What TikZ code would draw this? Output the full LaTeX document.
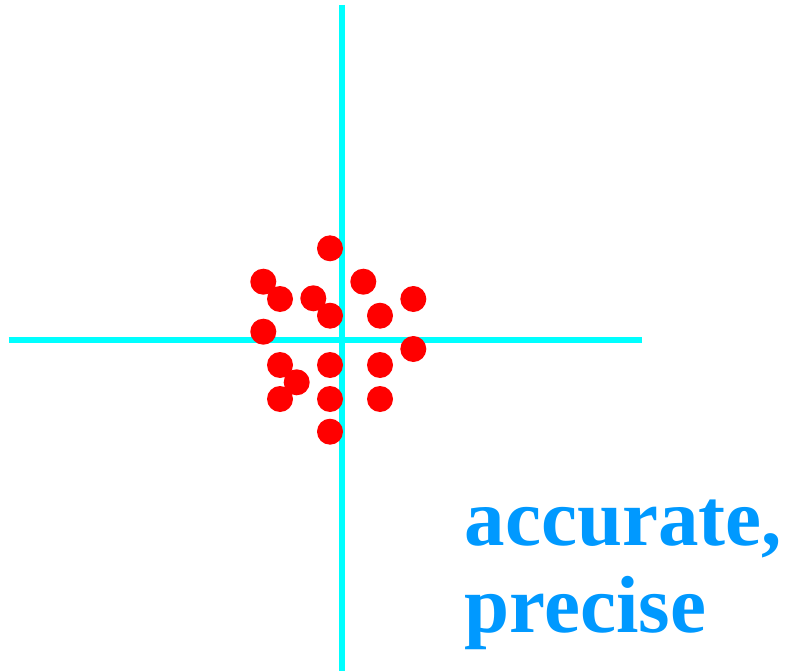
\documentclass[tikz,border=0pt]{standalone}
\usepackage{fontspec}
\setmainfont{Liberation Serif}
\definecolor{axiscyan}{RGB}{0,255,255}
\definecolor{dotred}{RGB}{255,0,0}
\definecolor{labelblue}{RGB}{0,153,255}
\tikzset{
  axisline/.style={draw=axiscyan, line width=6pt},
  shot/.style={circle, fill=dotred, draw=none, minimum size=26pt, inner sep=0pt},
  lbl/.style={text=labelblue, font=\bfseries\fontsize{81}{87}\selectfont, inner sep=0pt, anchor=base west}
}
\begin{document}
\begin{tikzpicture}[x=1pt,y=-1pt]
\useasboundingbox (0,0) rectangle (787,671);
\coordinate (vtop) at (341.5,5);
\coordinate (vbot) at (341.5,671);
\coordinate (hl) at (8.5,340);
\coordinate (hr) at (642,340);
\draw[axisline] (vtop) -- (vbot);
\draw[axisline] (hl) -- (hr);
\foreach \n/\x/\y in {1/330/248.3, 2/263.3/281.7, 3/280/299, 4/313.3/298.3, 5/330/315.7,
  6/363.3/281.7, 7/413.3/299, 8/380/315.7, 9/263.3/331.7, 10/413.3/349,
  11/280/365, 12/330/365, 13/380/365, 14/296.7/382.3, 15/280/399,
  16/330/399, 17/380/399, 18/330/431.7}
  \node[shot] (d\n) at (\x,\y) {};
\node[lbl] (l1) at (464.5,545) {accurate,};
\node[lbl] (l2) at (464.5,632) {precise};
\end{tikzpicture}
\end{document}
